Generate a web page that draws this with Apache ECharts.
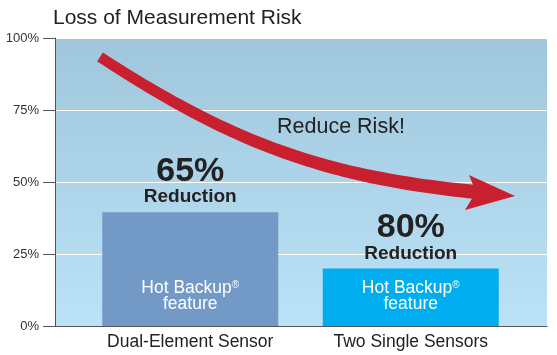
<!DOCTYPE html>
<html>
<head>
<meta charset="utf-8">
<script src="https://cdn.jsdelivr.net/npm/echarts@6/dist/echarts.min.js"></script>
<style>
html,body{margin:0;padding:0;background:#fff;}
#chart{width:557px;height:355px;}
</style>
</head>
<body>
<div id="chart"></div>
<script>
// ---- data ----
var titleText = 'Loss of Measurement Risk';
var categories = ['Dual-Element Sensor', 'Two Single Sensors'];
var riskValues = [39.5, 20];          // remaining loss-of-measurement risk (%)
var reductions = [65, 80];            // labelled reduction (%)
var featureLines = ['Hot Backup', 'feature'];
var arrowText = 'Reduce Risk!';
var yMin = 0, yMax = 100, yInterval = 25;

var FONT = "'Liberation Sans', Arial, Helvetica, sans-serif";
var chart = echarts.init(document.getElementById('chart'));

// decorative curved arrow (annotation, not a data mark)
function arrowShape() {
  var P0 = [100, 57], P1 = [230, 141.5], P2 = [322, 177], P3 = [476, 192];
  function bez(t) {
    var a = (1 - t) * (1 - t) * (1 - t), b = 3 * (1 - t) * (1 - t) * t, c = 3 * (1 - t) * t * t, d = t * t * t;
    return [a * P0[0] + b * P1[0] + c * P2[0] + d * P3[0], a * P0[1] + b * P1[1] + c * P2[1] + d * P3[1]];
  }
  function der(t) {
    var a = 3 * (1 - t) * (1 - t), b = 6 * (1 - t) * t, c = 3 * t * t;
    return [a * (P1[0] - P0[0]) + b * (P2[0] - P1[0]) + c * (P3[0] - P2[0]),
            a * (P1[1] - P0[1]) + b * (P2[1] - P1[1]) + c * (P3[1] - P2[1])];
  }
  var top = [], bot = [], N = 60;
  for (var i = 0; i <= N; i++) {
    var t = i / N, p = bez(t), d = der(t);
    var len = Math.sqrt(d[0] * d[0] + d[1] * d[1]);
    var nx = -d[1] / len, ny = d[0] / len;
    var w = (10.5 + 3.5 * t) / 2;
    top.push([p[0] - nx * w, p[1] - ny * w]);
    bot.push([p[0] + nx * w, p[1] + ny * w]);
  }
  return top.concat(bot.reverse());
}

var bg = new echarts.graphic.LinearGradient(0, 0, 0, 1, [
  { offset: 0, color: '#a0c6dc' },
  { offset: 1, color: '#bbe2f6' }
]);

var option = {
  animation: false,
  title: {
    text: titleText,
    left: 48, top: 3,
    textStyle: { fontFamily: FONT, fontSize: 21, fontWeight: 'normal', color: '#222' }
  },
  grid: [
    { left: 55, right: 10, top: 38, bottom: 29, show: true, backgroundColor: bg, borderWidth: 0, containLabel: false },
    { left: 80, right: 36, top: 38, bottom: 29, containLabel: false }
  ],
  xAxis: [
    { type: 'value', gridIndex: 0, min: 0, max: 1,
      axisLine: { show: true, onZero: false, lineStyle: { color: '#555', width: 1 } },
      axisTick: { show: false }, axisLabel: { show: false }, splitLine: { show: false } },
    { type: 'category', gridIndex: 1, data: categories,
      axisLine: { show: false }, axisTick: { show: false },
      axisLabel: { margin: 7, fontFamily: FONT, fontSize: 17.5, color: '#222' } }
  ],
  yAxis: [
    { type: 'value', gridIndex: 0, min: yMin, max: yMax, interval: yInterval,
      axisLine: { show: true, lineStyle: { color: '#555', width: 1 } },
      axisTick: { show: true, inside: false, length: 12, lineStyle: { color: '#555' } },
      axisLabel: { margin: 16, formatter: '{value}%', fontFamily: FONT, fontSize: 13, color: '#333' },
      splitLine: { show: true, lineStyle: { color: '#ffffff', width: 1.2 } } },
    { type: 'value', gridIndex: 1, min: yMin, max: yMax, interval: yInterval, show: false }
  ],
  series: [
    {
      type: 'bar', xAxisIndex: 1, yAxisIndex: 1, barWidth: 176, z: 3,
      data: riskValues.map(function (v, i) {
        return { value: v, itemStyle: { color: i === 0 ? '#7399c7' : '#00aeef' } };
      }),
      label: {
        show: true, position: 'insideBottom', distance: 14,
        formatter: function () { return '{a|' + featureLines[0] + '}{r|®}\n{a|' + featureLines[1] + '}'; },
        rich: {
          a: { fontFamily: FONT, fontSize: 17.5, color: '#fff', lineHeight: 16 },
          r: { fontFamily: FONT, fontSize: 10, color: '#fff', lineHeight: 16, verticalAlign: 'top', padding: [0, 0, 6, 0] }
        }
      }
    },
    {
      type: 'bar', xAxisIndex: 1, yAxisIndex: 1, barWidth: 176, barGap: '-100%', z: 4,
      data: riskValues,
      itemStyle: { color: 'rgba(0,0,0,0)' },
      label: {
        show: true, position: 'top', distance: 5,
        formatter: function (p) { return '{p|' + reductions[p.dataIndex] + '%}\n{r|Reduction}'; },
        rich: {
          p: { fontFamily: FONT, fontSize: 34, fontWeight: 'bold', color: '#222', lineHeight: 32 },
          r: { fontFamily: FONT, fontSize: 19, fontWeight: 'bold', color: '#222', lineHeight: 20 }
        }
      },
      silent: true
    }
  ],
  graphic: [
    { type: 'polygon', shape: { points: arrowShape() }, style: { fill: '#c8202f' }, z: 10 },
    { type: 'polygon', shape: { points: [[469, 175], [515, 196], [465, 210], [476, 192]] }, style: { fill: '#c8202f' }, z: 10 },
    { type: 'text', x: 277, y: 127, z: 10,
      style: { text: arrowText, fontFamily: FONT, fontSize: 21.5, fill: '#222', textAlign: 'left', textVerticalAlign: 'middle' } }
  ]
};
chart.setOption(option);
</script>
</body>
</html>
